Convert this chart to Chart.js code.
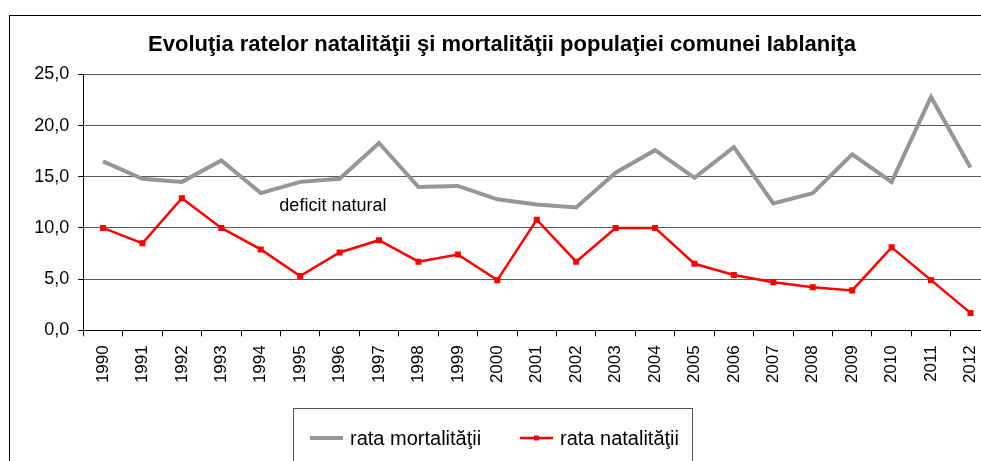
<!DOCTYPE html>
<html lang="ro">
<head>
<meta charset="UTF-8">
<title>Evoluţia ratelor natalităţii şi mortalităţii</title>
<style>
    body {
        margin: 0;
        background: #fff;
        overflow: hidden;
    }
    /* chart frame, cut off on the right and at the bottom like the original */
    .frame {
        position: absolute;
        left: 9px;
        top: 15px;
        width: 1100px;
        height: 600px;
        border: 1px solid #000;
    }
    .frame canvas {
        position: absolute;
        left: 0;
        top: 0;
    }
</style>
<script src="https://cdn.jsdelivr.net/npm/chart.js"></script>
</head>
<body>
<div class="frame">
    <canvas id="ratesChart" width="990" height="460"></canvas>
</div>
<script>
const years = ["1990", "1991", "1992", "1993", "1994", "1995", "1996", "1997", "1998", "1999", "2000",
    "2001", "2002", "2003", "2004", "2005", "2006", "2007", "2008", "2009", "2010", "2011", "2012"];
const mortalityRate = [16.5, 14.8, 14.5, 16.6, 13.4, 14.5, 14.8, 18.3, 14.0, 14.1, 12.8,
    12.3, 12.0, 15.4, 17.6, 14.9, 17.9, 12.4, 13.4, 17.2, 14.5, 22.8, 15.9];
const birthRate = [10.0, 8.5, 12.9, 10.0, 7.9, 5.3, 7.6, 8.8, 6.7, 7.4, 4.9,
    10.8, 6.7, 10.0, 10.0, 6.5, 5.4, 4.7, 4.2, 3.9, 8.1, 4.9, 1.7];
const yTicks = [0, 5, 10, 15, 20, 25];

const FONT = "Arial, 'Liberation Sans', sans-serif";

// "deficit natural" note, placed in data units
const notePos = { x: 5.83, y: 12.1 };

const noteLabel = {
    id: "noteLabel",
    afterDatasetsDraw(chart) {
        const ctx = chart.ctx;
        ctx.save();
        ctx.font = "18px " + FONT;
        ctx.fillStyle = "#000";
        ctx.textAlign = "center";
        ctx.textBaseline = "middle";
        ctx.fillText("deficit natural", chart.scales.x.getPixelForValue(notePos.x), chart.scales.y.getPixelForValue(notePos.y));
        ctx.restore();
    }
};

// Excel style legend in a box below the axis
const boxLegend = {
    id: "boxLegend",
    afterDraw(chart) {
        const ctx = chart.ctx;
        const left = 283, top = 392, right = 682;
        ctx.save();
        ctx.strokeStyle = "#555";
        ctx.lineWidth = 1;
        ctx.strokeRect(left + 0.5, top + 0.5, right - left, 200);
        ctx.font = "20px " + FONT;
        ctx.textBaseline = "middle";
        ctx.fillStyle = "#000";
        const starts = [300, 510];
        chart.data.datasets.forEach((ds, i) => {
            const x = starts[i], y = 422;
            ctx.strokeStyle = ds.borderColor;
            ctx.lineWidth = ds.borderWidth;
            ctx.beginPath();
            ctx.moveTo(x, y);
            ctx.lineTo(x + 33, y);
            ctx.stroke();
            if (ds.pointRadius > 0) {
                ctx.fillStyle = ds.borderColor;
                ctx.fillRect(x + 16.5 - ds.pointRadius, y - ds.pointRadius, ds.pointRadius * 2, ds.pointRadius * 2);
            }
            ctx.fillStyle = "#000";
            ctx.fillText(ds.label, x + 40, y + 1);
        });
        ctx.restore();
    }
};

new Chart(document.getElementById("ratesChart"), {
    type: "line",
    data: {
        labels: years,
        datasets: [
            {
                label: "rata mortalităţii",
                data: mortalityRate,
                borderColor: "#969696",
                backgroundColor: "#969696",
                borderWidth: 4,
                pointRadius: 0,
                tension: 0
            },
            {
                label: "rata natalităţii",
                data: birthRate,
                borderColor: "#ff0000",
                backgroundColor: "#ff0000",
                borderWidth: 2.5,
                pointStyle: "rect",
                pointRadius: 2.5,
                pointHoverRadius: 2.5,
                tension: 0
            }
        ]
    },
    options: {
        responsive: false,
        animation: false,
        layout: { padding: { left: 0, right: 6, top: 0, bottom: 0 } },
        plugins: {
            legend: { display: false },
            tooltip: { enabled: false },
            title: {
                display: true,
                text: "Evoluţia ratelor natalităţii şi mortalităţii populaţiei comunei Iablaniţa",
                color: "#000",
                font: { family: FONT, size: 22, weight: "bold" },
                padding: { top: 16, bottom: 16 }
            }
        },
        scales: {
            x: {
                offset: true,
                afterFit(scale) { scale.height = 145.7; },
                grid: {
                    offset: true,
                    drawOnChartArea: false,
                    tickLength: 6,
                    color: "#000"
                },
                border: { color: "#000", width: 1 },
                ticks: {
                    color: "#000",
                    font: { family: FONT, size: 17 },
                    minRotation: 90,
                    maxRotation: 90,
                    padding: 9,
                    autoSkip: false
                }
            },
            y: {
                min: 0,
                max: 25,
                afterFit(scale) { scale.width = 73.3; },
                afterBuildTicks(scale) { scale.ticks = yTicks.map(v => ({ value: v })); },
                grid: {
                    color: "#5a5a5a",
                    tickLength: 5,
                    tickColor: "#000"
                },
                border: { color: "#000", width: 1 },
                ticks: {
                    color: "#000",
                    font: { family: FONT, size: 18 },
                    padding: 9,
                    callback: v => v.toFixed(1).replace(".", ",")
                }
            }
        }
    },
    plugins: [noteLabel, boxLegend]
});
</script>
</body>
</html>
